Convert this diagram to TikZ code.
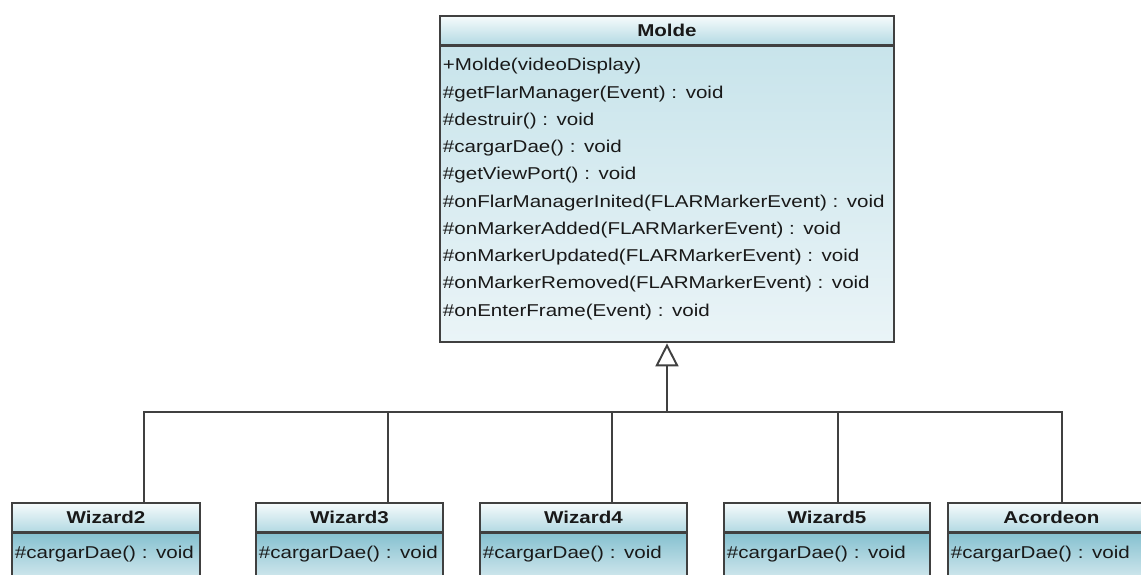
\documentclass[tikz,border=0pt]{standalone}
\usepackage{fontspec}
\setmainfont{Liberation Sans}[FakeStretch=1.2]
\usepackage{tikz}
\usetikzlibrary{positioning, arrows.meta, calc}
\definecolor{umlline}{RGB}{64,64,64}
\definecolor{umltext}{RGB}{25,25,25}
\definecolor{headtop}{RGB}{246,251,252}
\definecolor{headbot}{RGB}{180,218,227}
\definecolor{bodytop}{RGB}{200,228,235}
\definecolor{bodymid}{RGB}{134,193,208}
\definecolor{bodybot}{RGB}{234,244,247}

\begin{document}
\begin{tikzpicture}[
  classhead/.style = {draw = umlline, line width = 1.1pt, anchor = north west,
    top color = headtop, bottom color = headbot, minimum height = 0.57cm,
    inner sep = 0pt, text = umltext, font = \fontsize{9.75}{11}\selectfont\bfseries},
  classops/.style = {draw = umlline, line width = 1.1pt, align = left,
    inner xsep = 0.06cm, text = umltext, font = \fontsize{9.75}{15.5}\selectfont},
  smallops/.style = {classops, top color = bodymid, bottom color = bodybot,
    text height = 0.35cm, text depth = 0.55cm, inner ysep = 0.15cm},
  link/.style = {draw = umlline, line width = 1.1pt}
]
\useasboundingbox (0, 0) rectangle (22.82, -11.48);
\clip (0, 0) rectangle (22.82, -11.48);

\node [classhead, minimum width = 9.08cm] (molde) at (8.78, -0.30) {Molde};
\node [classops, below = 0pt of molde, minimum width = 9.08cm, minimum height = 5.92cm,
  text width = 8.96cm, text depth = 5.19cm,
  top color = bodytop, middle color = bodymid, bottom color = bodybot]
  (moldeops) {+Molde(videoDisplay)\\
  \#getFlarManager(Event) : void\\
  \#destruir() : void\\
  \#cargarDae() : void\\
  \#getViewPort() : void\\
  \#onFlarManagerInited(FLARMarkerEvent) : void\\
  \#onMarkerAdded(FLARMarkerEvent) : void\\
  \#onMarkerUpdated(FLARMarkerEvent) : void\\
  \#onMarkerRemoved(FLARMarkerEvent) : void\\
  \#onEnterFrame(Event) : void};

\node [classhead, minimum width = 3.76cm] (wiz2) at (0.22, -10.04) {Wizard2};
\node [smallops, below = 0pt of wiz2, minimum width = 3.76cm, text width = 3.64cm] (wiz2ops) {\#cargarDae() : void};
\node [classhead, minimum width = 3.74cm] (wiz3) at (5.10, -10.04) {Wizard3};
\node [smallops, below = 0pt of wiz3, minimum width = 3.74cm, text width = 3.62cm] (wiz3ops) {\#cargarDae() : void};
\node [classhead, minimum width = 4.14cm] (wiz4) at (9.58, -10.04) {Wizard4};
\node [smallops, below = 0pt of wiz4, minimum width = 4.14cm, text width = 4.02cm] (wiz4ops) {\#cargarDae() : void};
\node [classhead, minimum width = 4.12cm] (wiz5) at (14.46, -10.04) {Wizard5};
\node [smallops, below = 0pt of wiz5, minimum width = 4.12cm, text width = 4.00cm] (wiz5ops) {\#cargarDae() : void};
\node [classhead, minimum width = 4.14cm] (acordeon) at (18.94, -10.04) {Acordeon};
\node [smallops, below = 0pt of acordeon, minimum width = 4.14cm, text width = 4.02cm] (acordeonops) {\#cargarDae() : void};

\coordinate (bus) at ($(moldeops.south) + (0, -1.38)$);
\draw [link, -{Triangle[length = 0.46cm, width = 0.46cm, fill = white]}] (bus) -- (moldeops.south);
\draw [link] ($(wiz2.north west)!0.70!(wiz2.north east)$) |- (bus);
\draw [link] ($(wiz3.north west)!0.706!(wiz3.north east)$) |- (bus);
\draw [link] ($(wiz4.north west)!0.638!(wiz4.north east)$) |- (bus);
\draw [link] ($(wiz5.north west)!0.553!(wiz5.north east)$) |- (bus);
\draw [link] ($(acordeon.north west)!0.55!(acordeon.north east)$) |- (bus);
\end{tikzpicture}
\end{document}
